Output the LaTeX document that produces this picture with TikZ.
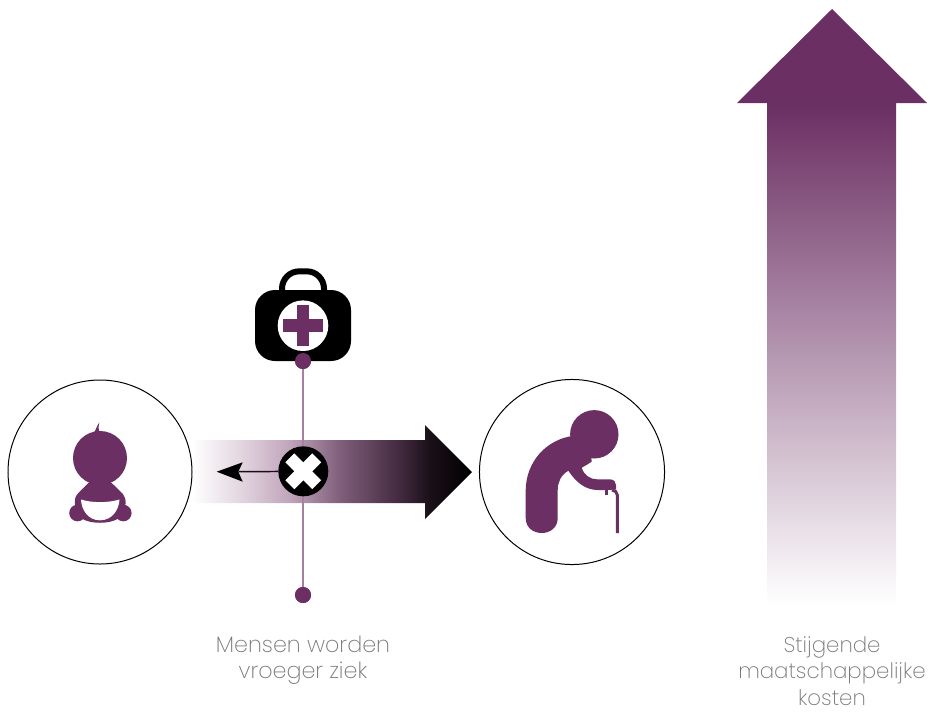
\documentclass[tikz,border=0pt]{standalone}
\usepackage{fontspec}
\setmainfont{Poppins ExtraLight}
\definecolor{plum}{HTML}{6B2F63}
\definecolor{plumline}{HTML}{A67FA1}
\definecolor{captiongrey}{HTML}{777777}
\definecolor{barA}{HTML}{E3D6E0}
\definecolor{barB}{HTML}{C0A4BB}
\definecolor{barC}{HTML}{7F5F7B}
\definecolor{barD}{HTML}{432A40}
\definecolor{barE}{HTML}{1A1018}
\pgfdeclarehorizontalshading{barshade}{100bp}{color(0bp)=(white); color(25bp)=(white); color(33.6bp)=(barA); color(42.5bp)=(barB); color(51.4bp)=(barC); color(62bp)=(barD); color(67.5bp)=(barE); color(75bp)=(black); color(100bp)=(black)}
\pgfdeclareverticalshading{riseshade}{100bp}{color(0bp)=(white); color(25bp)=(white); color(67bp)=(plum); color(100bp)=(plum)}
\tikzset{
  ring/.style={circle,draw=black,line width=0.75pt,minimum size=138pt,inner sep=0pt},
  dotnode/.style={circle,fill=plum,minimum size=12pt,inner sep=0pt},
  caption/.style={text=captiongrey,align=center,inner sep=0pt},
}
\begin{document}
\begin{tikzpicture}[x=0.75pt,y=-0.75pt]
\useasboundingbox (0,0) rectangle (930,711);
% big rising arrow
\path[shading=riseshade] (767,605) -- (767,103) -- (737,103) -- (832,9) -- (927,103) -- (896,103) -- (896,605) -- cycle;
% horizontal arrow
\path[shading=barshade] (192,440) -- (425,440) -- (425,425) -- (472,472) -- (425,519) -- (425,503) -- (192,503) -- cycle;
% circles
\node[ring] (babyring) at (100,472) {};
\node[ring,minimum size=138.8pt] (oldring) at (572,472) {};
% vertical line nodes
\node[dotnode] (topdot) at (303,361) {};
\node[dotnode] (botdot) at (303,595) {};
% medical kit
\draw[black,line width=4.5pt,rounded corners=13pt] (282,295) -- (282,271.3) -- (324,271.3) -- (324,295);
\fill[black,rounded corners=15pt] (255,290) rectangle (351,361);
\fill[white] (303,325.7) circle (25.3);
\fill[plum] (296.7,305) rectangle (309.3,345.7);
\fill[plum] (283,319.4) rectangle (323.3,332);
\draw[plumline,line width=1.5pt] (topdot) -- (botdot);
\node[dotnode] at (topdot) {};
\node[dotnode] at (botdot) {};
% x badge
\node[circle,fill=black,minimum size=37.5pt,inner sep=0pt] (xbadge) at (303.3,471.3) {};
\begin{scope}[shift={(303.3,471.3)},rotate=45]
\fill[white] (-19,-6.3) rectangle (19,6.3);
\fill[white] (-6.3,-19) rectangle (6.3,19);
\end{scope}
% small arrow
\coordinate (smalltip) at (238.5,471.7);
\draw[black!75!plum,line width=1.1pt] (xbadge) -- (smalltip);
\fill[black] (216.7,471.7) -- (242.7,462.3) -- (238.3,471.7) -- (242.7,481.7) -- cycle;
% baby
\fill[plum] (93.3,433.5) .. controls (96,430) and (97,425.5) .. (99.3,422.3) .. controls (98.3,427) and (98.3,431) .. (100.5,433.5) -- cycle;
\fill[plum] (100,458) circle (27);
\fill[plum] (88.3,483) -- (77.5,494) .. controls (75,497) and (74.5,500) .. (75,504) -- (79,516) .. controls (86,525) and (114,525) .. (121,516) -- (125.5,504) .. controls (126,500) and (125,497) .. (123,494) -- (111.7,483) -- cycle;
\fill[plum] (77.5,513) circle (8.3);
\fill[plum] (123.3,513) circle (8.3);
\fill[white] (81,499.5) .. controls (92,503) and (108,503) .. (119.5,499.5) .. controls (119,510) and (112,520.3) .. (100,520.3) .. controls (88,520.3) and (81.5,510) .. (81,499.5) -- cycle;
% old person
\fill[plum] (594.3,434.3) circle (24.2);
\fill[plum] (525.7,518) -- (525.7,490) .. controls (526,462) and (546,440) .. (572,436)
  -- (590,445) -- (591.7,461.7) .. controls (588,464) and (585,466) .. (581.7,467.7)
  .. controls (584,475) and (590,479.3) .. (597,479.3) -- (610,479.3)
  .. controls (614,479.5) and (616,482) .. (616,485) -- (616,489.5) -- (606.7,490) -- (598,490)
  .. controls (585,490) and (576,482) .. (568.3,470.7)
  .. controls (561,475) and (557.7,482) .. (557.7,490) -- (557.7,518)
  .. controls (557.7,538) and (525.7,538) .. (525.7,518) -- cycle;
\draw[plum,line width=2.2pt] (617.3,533) -- (617.3,495) .. controls (617.3,492) and (615,490.5) .. (612,490);
\draw[plum,line width=2pt] (606.7,489.5) -- (606.7,495);
% captions
\node[caption,font=\fontsize{16.7pt}{19.9pt}\selectfont] (leftcap) at (303,660) {Mensen worden\\vroeger ziek};
\node[caption,font=\fontsize{16pt}{19.9pt}\selectfont] (rightcap) at (832,671) {Stijgende\\maatschappelijke\\kosten};
\end{tikzpicture}
\end{document}
